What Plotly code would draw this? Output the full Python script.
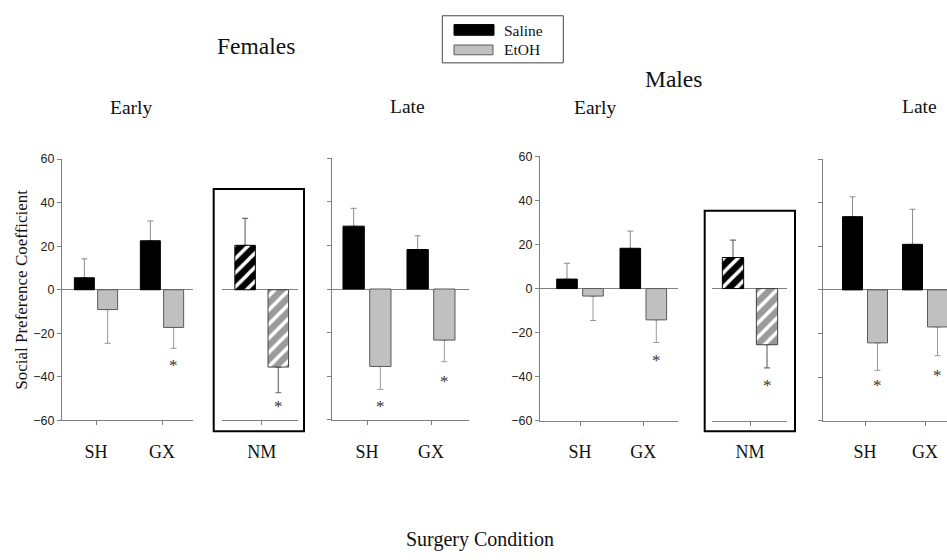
import plotly.graph_objects as go

W, H = 947, 560

# ---------------- data ----------------
groups = ["SH", "GX"]
nm_group = ["NM"]

f_early_saline = [5.5, 22.5]
f_early_saline_err = [8.7, 9.1]
f_early_etoh = [-9.1, -17.3]
f_early_etoh_err = [15.5, 9.6]
f_early_stars = [None, -33]

f_nm_saline = [20.4]
f_nm_saline_err = [12.4]
f_nm_etoh = [-35.5]
f_nm_etoh_err = [11.8]
f_nm_stars = [-52]

f_late_saline = [28.8, 18.1]
f_late_saline_err = [8.2, 6.3]
f_late_etoh = [-35.5, -23.4]
f_late_etoh_err = [10.5, 9.9]
f_late_stars = [-52, -40.5]

m_early_saline = [4.3, 18.3]
m_early_saline_err = [7.2, 7.8]
m_early_etoh = [-3.4, -14.2]
m_early_etoh_err = [11.1, 10.3]
m_early_stars = [None, -31]

m_nm_saline = [14.1]
m_nm_saline_err = [7.9]
m_nm_etoh = [-25.5]
m_nm_etoh_err = [10.5]
m_nm_stars = [-42]

m_late_saline = [33.6, 20.9]
m_late_saline_err = [9.1, 16.1]
m_late_etoh = [-24.3, -17.0]
m_late_etoh_err = [12.6, 13.2]
m_late_stars = [-42, -37.6]

y_ticks = [-60, -40, -20, 0, 20, 40, 60]
y_range = [-60, 60]

# ---------------- styles ----------------
SERIF = "Liberation Serif, Times New Roman, serif"
SANS = "Liberation Sans, Arial, sans-serif"
AXIS_GRAY = "#808080"
SALINE_COLOR = "#000000"
ETOH_COLOR = "#c0c0c0"
ETOH_LINE = "#5a5a5a"
HATCH_ETOH_BG = "#9a9a9a"
STAR_COLOR = "rgb(51,51,51)"

panels = [
    dict(cats=groups, sal=f_early_saline, sal_e=f_early_saline_err, eto=f_early_etoh,
         eto_e=f_early_etoh_err, stars=f_early_stars,
         x0=62, x1=193, t0=96, sp=66, yt=156, yb=424, bw=20, gap=3.3, nm=False, labels=True),
    dict(cats=nm_group, sal=f_nm_saline, sal_e=f_nm_saline_err, eto=f_nm_etoh,
         eto_e=f_nm_etoh_err, stars=f_nm_stars,
         x0=221.7, x1=297.7, t0=261.7, sp=76, yt=156, yb=424, bw=20.5, gap=12.7, nm=True, labels=False),
    dict(cats=groups, sal=f_late_saline, sal_e=f_late_saline_err, eto=f_late_etoh,
         eto_e=f_late_etoh_err, stars=f_late_stars,
         x0=332.3, x1=469, t0=367, sp=64, yt=155, yb=423.5, bw=21.3, gap=5.4, nm=False, labels=False),
    dict(cats=groups, sal=m_early_saline, sal_e=m_early_saline_err, eto=m_early_etoh,
         eto_e=m_early_etoh_err, stars=m_early_stars,
         x0=540, x1=678, t0=580, sp=63.3, yt=153.3, yb=424.3, bw=20.6, gap=5.4, nm=False, labels=True),
    dict(cats=nm_group, sal=m_nm_saline, sal_e=m_nm_saline_err, eto=m_nm_etoh,
         eto_e=m_nm_etoh_err, stars=m_nm_stars,
         x0=712.3, x1=787.3, t0=750, sp=75, yt=153.3, yb=424.3, bw=21.3, gap=12.7, nm=True, labels=False),
    dict(cats=groups, sal=m_late_saline, sal_e=m_late_saline_err, eto=m_late_etoh,
         eto_e=m_late_etoh_err, stars=m_late_stars,
         x0=822.7, x1=947, t0=865, sp=60, yt=156, yb=424.3, bw=20, gap=5, nm=False, labels=False),
]

nm_boxes = [(213.7, 186.7, 304, 435), (704.7, 209, 795, 435)]

fig = go.Figure()
layout = dict(
    width=W, height=H, margin=dict(l=0, r=0, t=0, b=0),
    paper_bgcolor="white", plot_bgcolor="rgba(0,0,0,0)",
    barmode="overlay", showlegend=False,
    shapes=[], annotations=[],
)


def err_parts(vals, errs):
    plus = [e if v >= 0 else 0 for v, e in zip(vals, errs)]
    minus = [e if v < 0 else 0 for v, e in zip(vals, errs)]
    return plus, minus


for i, p in enumerate(panels, start=1):
    xa = "x" if i == 1 else f"x{i}"
    ya = "y" if i == 1 else f"y{i}"
    w = p["bw"] / p["sp"]
    g = p["gap"] / p["sp"]
    offsets = {"sal": -w - g / 2, "eto": g / 2}
    n = len(p["cats"])

    for key, errkey in (("sal", "sal_e"), ("eto", "eto_e")):
        vals = p[key]
        plus, minus = err_parts(vals, p[errkey])
        ecol = "#6e6e6e" if p["nm"] else ("#8a8a8a" if key == "sal" else "#999999")
        fig.add_trace(go.Bar(
            x=p["cats"], y=vals, xaxis=xa, yaxis=ya,
            offset=offsets[key], width=w,
            marker=dict(color="rgba(0,0,0,0)", line=dict(width=0)),
            error_y=dict(type="data", symmetric=False, array=plus, arrayminus=minus,
                         color=ecol, thickness=1.2 if p["nm"] else 1, width=3),
            hoverinfo="skip",
        ))
    for key in ("sal", "eto"):
        vals = p[key]
        if key == "sal":
            marker = dict(color=SALINE_COLOR, line=dict(color="#000000", width=1))
            if p["nm"]:
                marker["pattern"] = dict(shape="/", fgcolor="white", bgcolor=SALINE_COLOR,
                                         size=10, solidity=0.35, fillmode="replace")
        else:
            marker = dict(color=ETOH_COLOR, line=dict(color=ETOH_LINE, width=1))
            if p["nm"]:
                marker = dict(color=HATCH_ETOH_BG, line=dict(color="#404040", width=1),
                              pattern=dict(shape="/", fgcolor="white", bgcolor=HATCH_ETOH_BG,
                                           size=10, solidity=0.35, fillmode="replace"))
        fig.add_trace(go.Bar(
            x=p["cats"], y=vals, xaxis=xa, yaxis=ya,
            offset=offsets[key], width=w, marker=marker,
            name="Saline" if key == "sal" else "EtOH",
        ))

    for cat, s in zip(p["cats"], p["stars"]):
        if s is None:
            continue
        layout["annotations"].append(dict(
            x=cat, y=s, xref=xa, yref=ya, text="*", showarrow=False,
            xshift=(g / 2 + w / 2) * p["sp"], yshift=-4,
            font=dict(family=SERIF, size=17, color=STAR_COLOR),
        ))

    a = (p["t0"] - p["x0"]) / p["sp"]
    b = (p["x1"] - (p["t0"] + (n - 1) * p["sp"])) / p["sp"]
    axname_x = "xaxis" if i == 1 else f"xaxis{i}"
    axname_y = "yaxis" if i == 1 else f"yaxis{i}"
    layout[axname_x] = dict(
        domain=[p["x0"] / W, min(p["x1"] / W, 1.0)], anchor=ya,
        type="category", categoryorder="array", categoryarray=p["cats"],
        range=[-a, n - 1 + b], showline=True, linecolor=AXIS_GRAY, linewidth=1,
        ticks="outside", ticklen=4, tickcolor=AXIS_GRAY, tickwidth=1,
        tickfont=dict(family=SERIF, size=18, color="#111111"),
        ticklabelstandoff=11,
        showgrid=False, zeroline=False, fixedrange=True,
    )
    layout[axname_y] = dict(
        domain=[1 - p["yb"] / H, 1 - p["yt"] / H], anchor=xa,
        range=y_range, tickvals=y_ticks,
        showline=not p["nm"], linecolor=AXIS_GRAY, linewidth=1,
        ticks="" if p["nm"] else "outside", ticklen=4, tickcolor=AXIS_GRAY, tickwidth=1,
        showticklabels=p["labels"],
        tickfont=dict(family=SANS, size=12.5, color="#222222"),
        zeroline=True, zerolinecolor=AXIS_GRAY, zerolinewidth=1,
        showgrid=False, fixedrange=True,
    )

for (bx0, by0, bx1, by1) in nm_boxes:
    layout["shapes"].append(dict(
        type="rect", xref="paper", yref="paper",
        x0=bx0 / W, x1=bx1 / W, y0=1 - by1 / H, y1=1 - by0 / H,
        line=dict(color="#000000", width=2), fillcolor="rgba(0,0,0,0)",
    ))

layout["shapes"] += [
    dict(type="rect", xref="paper", yref="paper", x0=442.3 / W, x1=563.3 / W,
         y0=1 - 57.3 / H, y1=1 - 9 / H, line=dict(color="#444444", width=1)),
    dict(type="rect", xref="paper", yref="paper", x0=454 / W, x1=494 / W,
         y0=1 - 29 / H, y1=1 - 18 / H, fillcolor=SALINE_COLOR, line=dict(color="#000000", width=1)),
    dict(type="rect", xref="paper", yref="paper", x0=454 / W, x1=493 / W,
         y0=1 - 49 / H, y1=1 - 39 / H, fillcolor=ETOH_COLOR, line=dict(color=ETOH_LINE, width=1)),
]


def text(x, y, s, size, family=SERIF, angle=0, xanchor="center"):
    layout["annotations"].append(dict(
        x=x / W, y=1 - y / H, xref="paper", yref="paper", text=s, showarrow=False,
        xanchor=xanchor, yanchor="middle", textangle=angle,
        font=dict(family=family, size=size, color="#111111"),
    ))


text(502, 24, "Saline", 15.5, xanchor="left")
text(502, 44, "EtOH", 15.5, xanchor="left")
text(256, 40, "Females", 23.5)
text(673, 74, "Males", 23.5)
text(131, 103, "Early", 19.5)
text(407.5, 102, "Late", 19.5)
text(595, 103, "Early", 19.5)
text(919, 102, "Late", 19.5)
text(22, 290, "Social Preference Coefficient", 17, angle=-90)
text(480, 546, "Surgery Condition", 20)

fig.update_layout(**layout)
fig.write_html("out.html")
